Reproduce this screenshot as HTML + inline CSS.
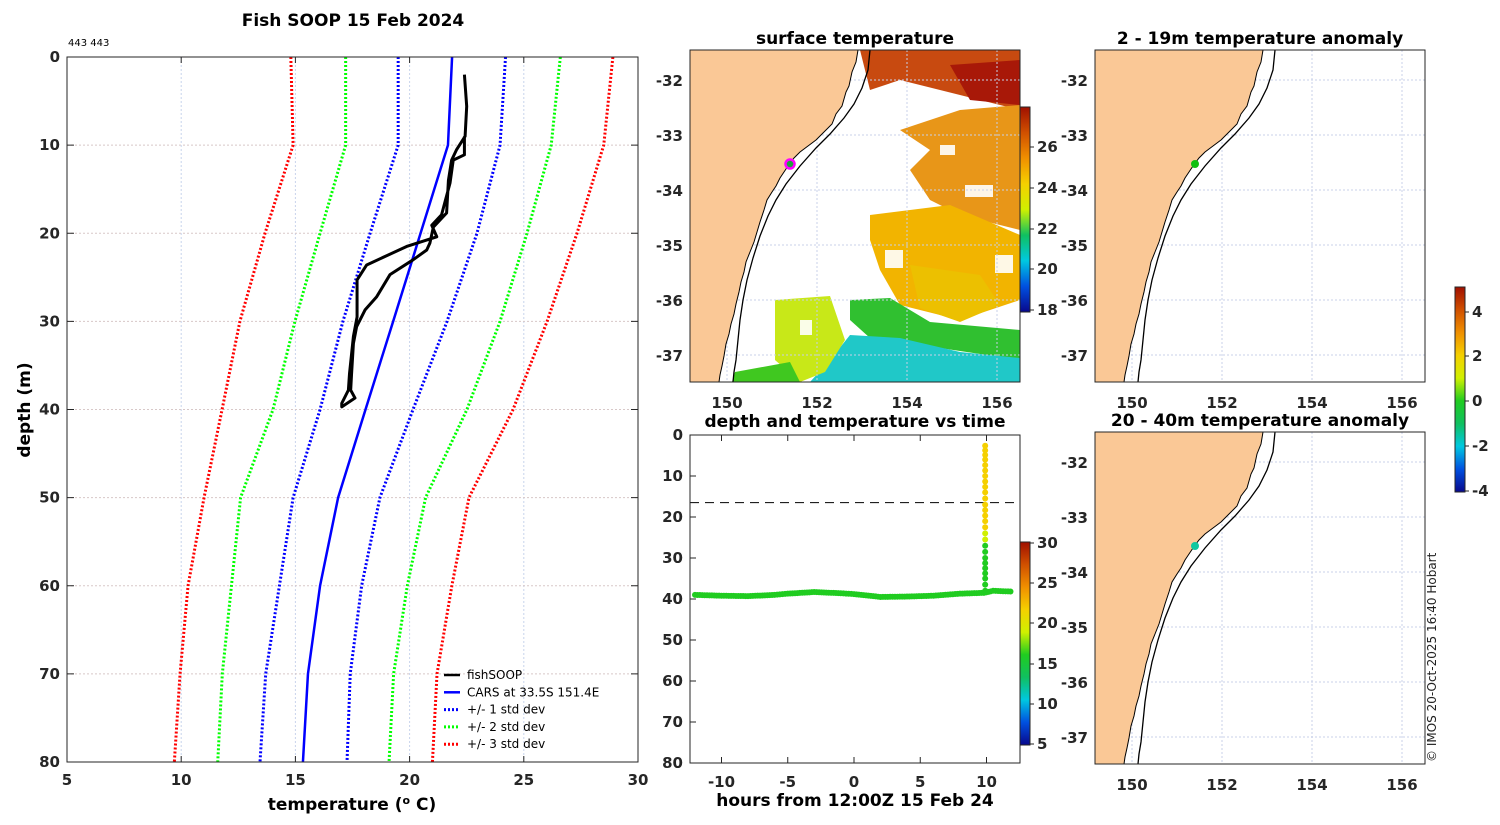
<!DOCTYPE html>
<html><head><meta charset="utf-8"><style>
body{margin:0;background:#fff;}
svg text{font-family:"DejaVu Sans","Liberation Sans",sans-serif;}
.tk{font-size:15px;font-weight:bold;fill:#262626;}
.ti{font-size:17px;font-weight:bold;fill:#000;}
</style></head><body>
<svg id="s" width="1500" height="820" xmlns="http://www.w3.org/2000/svg">
<g id="main"></g>
<g id="maps"></g>
<g id="ts"></g>
<text x="1436" y="762" transform="rotate(-90 1436 762)" font-size="12" fill="#222">© IMOS 20-Oct-2025 16:40 Hobart</text>
</svg>
<script>
const NS="http://www.w3.org/2000/svg";
// ---- profile chart data ----
const depthLevels=[0,10,20,30,40,50,60,70,80];
const carsTemp=[21.86,21.68,20.48,19.28,18.07,16.87,16.08,15.55,15.33];
const sd1Lo=[19.5,19.5,18.27,17.08,16.08,14.9,14.3,13.7,13.45];
const sd1Hi=[24.2,23.96,22.95,21.64,20.15,18.7,17.9,17.4,17.26];
const sd2Lo=[17.2,17.2,16.08,14.98,14.02,12.6,12.2,11.8,11.6];
const sd2Hi=[26.6,26.2,25.14,23.96,22.51,20.7,19.9,19.3,19.1];
const sd3Lo=[14.8,14.9,13.67,12.57,11.79,11.0,10.3,9.95,9.7];
const sd3Hi=[28.9,28.5,27.33,26.02,24.53,22.6,21.85,21.2,21.0];
const fishTemp=[22.4,22.5,22.43,22.06,21.84,21.7,21.62,21.04,20.89,20.75,20.16,19.14,18.56,18.05,17.68,17.54,17.46,17.42,17.61,17.03,17.03,17.32,17.37,17.54,17.7,17.7,18.12,19.87,21.19,20.97,21.4,21.77,21.91,22.4,22.4];
const fishDepth=[2.0,5.6,9.0,10.5,11.7,14.0,17.7,19.3,21.1,21.9,23.0,24.7,27.2,28.7,30.6,32.5,35.9,37.8,38.7,39.7,39.3,37.8,35.9,31.7,29.5,25.3,23.6,21.5,20.4,19.1,17.9,14.3,11.7,11.1,9.0];
const xTicks=[5,10,15,20,25,30];
const yTicks=[0,10,20,30,40,50,60,70,80];
// ---- time series data ----
const bottomHours=[-12,-10,-8,-6,-5,-3,-1,0,2,4,6,8,9.8,10.5,12];
const bottomDepth=[39,39.2,39.3,39,38.7,38.3,38.6,38.8,39.5,39.4,39.2,38.7,38.5,38,38.2];
const bottomTemp=[17,17,17,17,17,17,17,17,17,17,17,17,17,17,17];
const profHour=9.9;
const profDepth=[38,35,30,27,24,21,17,14,10,6,1.5];
const profTemp=[17,17,17,17,20,20.5,23,23,23,23,23];
const tsXTicks=[-10,-5,0,5,10];
const tsYTicks=[0,10,20,30,40,50,60,70,80];
const mldDepth=16.5;
const lonTicks=[150,152,154,156];
const latTicks=[-32,-33,-34,-35,-36,-37];

function el(tag,attrs,parent,txt){const e=document.createElementNS(NS,tag);for(const k in attrs)e.setAttribute(k,attrs[k]);if(txt!==undefined)e.textContent=txt;parent.appendChild(e);return e;}

const M={l:67,r:638,t:57,b:762};
const px=t=>M.l+(t-5)/25*(M.r-M.l);
const py=d=>M.t+d/80*(M.b-M.t);
const g=document.getElementById('main');
let e;
xTicks.forEach(t=>{e=el('line',{x1:px(t),x2:px(t),y1:M.t,y2:M.b,stroke:'#c8d4ec','stroke-dasharray':'2,2'},g);

e=el('text',{x:px(t),y:M.b+23,'text-anchor':'middle',class:'tk'},g,t);

el('line',{x1:px(t),x2:px(t),y1:M.b,y2:M.b-6,stroke:'#262626'},g);el('line',{x1:px(t),x2:px(t),y1:M.t,y2:M.t+6,stroke:'#262626'},g);});
yTicks.forEach(d=>{e=el('line',{x1:M.l,x2:M.r,y1:py(d),y2:py(d),stroke:'#d8c8c8','stroke-dasharray':'2,2'},g);

e=el('text',{x:M.l-7,y:py(d)+5,'text-anchor':'end',class:'tk'},g,d);

el('line',{x1:M.r,x2:M.r-7,y1:py(d),y2:py(d),stroke:'#262626'},g);el('line',{x1:M.l,x2:M.l+7,y1:py(d),y2:py(d),stroke:'#262626'},g);});
function line(ts,ds,col,dash,w,name){const pts=ts.map((t,i)=>px(t)+','+py(ds[i])).join(' ');
 const a={points:pts,fill:'none',stroke:col,'stroke-width':w,'stroke-linejoin':'round'};if(dash)a['stroke-dasharray']=dash;
 const p=el('polyline',a,g);}
line(sd3Lo,depthLevels,'#f00','2,2',3,'sd3-low-line');line(sd3Hi,depthLevels,'#f00','2,2',3,'sd3-high-line');
line(sd2Lo,depthLevels,'#0f0','2,2',3,'sd2-low-line');line(sd2Hi,depthLevels,'#0f0','2,2',3,'sd2-high-line');
line(sd1Lo,depthLevels,'#00f','2,2',3,'sd1-low-line');line(sd1Hi,depthLevels,'#00f','2,2',3,'sd1-high-line');
line(carsTemp,depthLevels,'#00f',null,2.5,'cars-line');
line(fishTemp,fishDepth,'#000',null,3,'fishsoop-line');
el('rect',{x:M.l,y:M.t,width:M.r-M.l,height:M.b-M.t,fill:'none',stroke:'#262626'},g);
e=el('text',{x:353,y:26,'text-anchor':'middle',class:'ti'},g,'Fish SOOP 15 Feb 2024');
e=el('text',{x:68,y:46,'font-size':'10'},g,'443 443');
e=el('text',{x:352,y:810,'text-anchor':'middle',class:'ti','font-size':'16'},g,'');
e.innerHTML='temperature (<tspan dy="-6" font-size="11">o</tspan><tspan dy="6"> C)</tspan>';
e=el('text',{x:30,y:410,'text-anchor':'middle',class:'ti','font-size':'16',transform:'rotate(-90 30 410)'},g,'depth (m)');
const leg=[['#000',null,'fishSOOP'],['#00f',null,'CARS at 33.5S 151.4E'],['#00f','2,2','+/- 1 std dev'],['#0f0','2,2','+/- 2 std dev'],['#f00','2,2','+/- 3 std dev']];
leg.forEach((L,i)=>{const y=675+i*17.3;const a={x1:444,x2:460,y1:y,y2:y,stroke:L[0],'stroke-width':L[1]?3:2.5};if(L[1])a['stroke-dasharray']=L[1];
 el('line',a,g);e=el('text',{x:467,y:y+4,'font-size':'12',fill:'#000'},g,L[2]);});

// ---- maps ----
const mg=document.getElementById('maps');
const coast=[[858,50],[856,62],[852,72],[849,86],[846,92],[842,106],[836,114],[832,124],[822,134],[816,140],[808,146],[800,152],[794,158],[788,166],[784,172],[780,178],[776,186],[772,192],[767,200],[764,210],[760,222],[757,232],[754,242],[750,252],[746,262],[744,272],[741,282],[739,292],[736,304],[734,314],[731,324],[729,334],[726,344],[724,356],[722,366],[720,375],[719,382]];
const shelf=[[870,50],[868,70],[862,88],[854,104],[844,118],[830,134],[816,148],[800,166],[786,184],[776,200],[768,216],[760,236],[753,258],[747,280],[743,300],[740,320],[738,340],[736,360],[734,372],[733,382]];
const jet=['#08088c','#0050e0','#00c8e0','#10c060','#20cc20','#d0f000','#f5d000','#f09000','#d05000','#a01000'];
function drawMap(ox,oy,title,name,sst,dot){
 const G=el('g',{transform:`translate(${ox},${oy})`},mg);
 el('rect',{x:690,y:50,width:330,height:332,fill:'#fff'},G);
 if(sst){
  const blobs=[
   ['#c84a10','860,50 1020,50 1020,110 980,100 940,90 900,80 870,90'],
   ['#a81808','950,65 1020,60 1020,105 970,100'],
   ['#e89618','900,130 960,110 1020,105 1020,230 960,215 930,200 910,170 930,150'],
   ['#f2b400','870,215 950,205 1020,235 1020,300 960,320 900,305 880,270 870,240'],
   ['#ecc000','910,265 980,275 1000,305 960,322 920,308'],
   ['#30c030','850,300 890,298 930,322 1020,330 1020,360 940,348 870,338 850,320'],
   ['#20c8c8','850,335 900,338 960,352 1020,358 1020,382 810,382 830,360'],
   ['#c8e818','775,300 830,296 845,340 825,372 800,382 775,360'],
   ['#40c820','735,372 790,362 800,382 732,382']];
  blobs.forEach(b=>{const p=el('polygon',{points:b[1],fill:b[0]},G);});
  [[875,100,40,25],[965,185,28,12],[995,255,18,18],[885,250,18,18],[940,145,15,10],[800,320,12,15]].forEach(r=>el('rect',{x:r[0],y:r[1],width:r[2],height:r[3],fill:'#fff',opacity:0.9},G));
 }
 lonTicks.forEach(l=>{const x=727+(l-150)*45;el('line',{x1:x,x2:x,y1:50,y2:382,stroke:'#c8d0e8','stroke-dasharray':'2,2'},G);
  const t=el('text',{x:x,y:408,'text-anchor':'middle',class:'tk'},G,l);});
 latTicks.forEach(l=>{const y=80+(-32-l)*55;el('line',{x1:690,x2:1020,y1:y,y2:y,stroke:'#c8d0e8','stroke-dasharray':'2,2'},G);
  const t=el('text',{x:683,y:y+6,'text-anchor':'end',class:'tk'},G,l);});
 const land=el('polygon',{points:'690,50 '+coast.map(p=>p.join(',')).join(' ')+' 690,382',fill:'#fac896',stroke:'#000','stroke-width':1},G);
 
 el('polyline',{points:shelf.map(p=>p.join(',')).join(' '),fill:'none',stroke:'#000','stroke-width':1.3},G);
 el('rect',{x:690,y:50,width:330,height:332,fill:'none',stroke:'#262626'},G);
 const c=el('circle',{cx:790,cy:164,r:dot[1]?4.5:4,fill:dot[0],stroke:dot[1]||'none','stroke-width':2.5},G);
 const t=el('text',{x:855,y:44,'text-anchor':'middle',class:'ti'},G,title);
}
drawMap(0,0,'surface temperature','sst-map',true,['#20a040','#f0f']);
drawMap(405,0,'2 - 19m temperature anomaly','anomaly-map-upper',false,['#10c010',null]);
drawMap(405,382,'20 - 40m temperature anomaly','anomaly-map-lower',false,['#10c8a0',null]);
function cbar(x,y1,y2,cols,ticks,name){const id='gr'+name;const d=el('defs',{},mg);const lg=el('linearGradient',{id:id,x1:0,y1:1,x2:0,y2:0},d);
 cols.forEach((c,i)=>el('stop',{offset:i/(cols.length-1),'stop-color':c},lg));
 const r=el('rect',{x:x,y:y1,width:10,height:y2-y1,fill:`url(#${id})`,stroke:'#262626'},mg);
 ticks.forEach(t=>{el('line',{x1:x+10,x2:x+14,y1:t[1],y2:t[1],stroke:'#262626'},mg);const tt=el('text',{x:x+17,y:t[1]+5,class:'tk','font-size':'14'},mg,t[0]);});}
cbar(1020,107,312,['#08088c','#0050e0','#00c8e0','#10c060','#d0f000','#f5d000','#f09000','#d05000','#a01000'],[[18,310],[20,269],[22,229],[24,188],[26,147]],'sst-colorbar');
cbar(1455,287,492,jet,[[4,312],[2,356],[0,401],[-2,446],[-4,491]],'anomaly-colorbar');
cbar(1020,542,745,jet,[[30,543],[25,583],[20,623],[15,664],[10,704],[5,744]],'ts-colorbar');

// ---- time series ----
const T={l:690,r:1020,t:435,b:763};
const tx=h=>854+h*13.25;
const ty=d=>T.t+d/80*(T.b-T.t);
const tg=document.getElementById('ts');
tsXTicks.forEach(h=>{el('line',{x1:tx(h),x2:tx(h),y1:T.b,y2:T.b-6,stroke:'#262626'},tg);el('line',{x1:tx(h),x2:tx(h),y1:T.t,y2:T.t+6,stroke:'#262626'},tg);
 e=el('text',{x:tx(h),y:T.b+24,'text-anchor':'middle',class:'tk'},tg,h);});
tsYTicks.forEach(d=>{el('line',{x1:T.l,x2:T.l+6,y1:ty(d),y2:ty(d),stroke:'#262626'},tg);
 e=el('text',{x:T.l-7,y:ty(d)+5,'text-anchor':'end',class:'tk'},tg,d);});
e=el('line',{x1:T.l,x2:T.r,y1:ty(mldDepth),y2:ty(mldDepth),stroke:'#000','stroke-dasharray':'9,6'},tg);
function tcol(v){const f=Math.max(0,Math.min(1,(v-5)/25))*(jet.length-1);return jet[Math.round(f)];}
function dotsAlong(hs,ds,vs,step){for(let i=0;i<hs.length-1;i++){const n=Math.max(1,Math.round(Math.hypot(tx(hs[i+1])-tx(hs[i]),ty(ds[i+1])-ty(ds[i]))/step));
 for(let k=0;k<n;k++){const f=k/n;const h=hs[i]+(hs[i+1]-hs[i])*f,d=ds[i]+(ds[i+1]-ds[i])*f;const v=f<0.5?vs[i]:vs[i+1];
  const c=el('circle',{cx:tx(h),cy:ty(d),r:3,fill:tcol(v)},tg);}}}
dotsAlong(bottomHours,bottomDepth,bottomTemp,2.5);
dotsAlong(profDepth.map(()=>profHour),profDepth,profTemp,5);
el('rect',{x:T.l,y:T.t,width:T.r-T.l,height:T.b-T.t,fill:'none',stroke:'#262626'},tg);
e=el('text',{x:855,y:427,'text-anchor':'middle',class:'ti'},tg,'depth and temperature vs time');
e=el('text',{x:855,y:806,'text-anchor':'middle',class:'ti','font-size':'16'},tg,'hours from 12:00Z 15 Feb 24');
</script>
</body></html>
